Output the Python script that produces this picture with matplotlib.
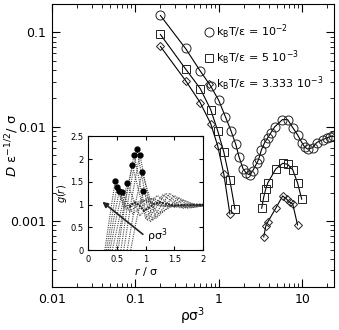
import matplotlib
matplotlib.use('Agg')
import matplotlib.pyplot as plt
from matplotlib.ticker import FixedLocator, FixedFormatter, LogLocator, NullFormatter

plt.rcParams['font.family'] = ['DejaVu Sans']
plt.rcParams['mathtext.fontset'] = 'dejavusans'

# main panel: D vs density, three temperatures
rho_t1 = [0.2, 0.4, 0.6, 0.8, 1.0, 1.2, 1.4, 1.6, 1.75, 1.95, 2.15, 2.35, 2.55, 2.85, 3.0, 3.25,
          3.55, 3.85, 4.2, 4.7, 5.8, 6.7, 7.7, 8.8, 9.9, 10.7, 11.6, 13.4, 14.9, 17.6, 19.6, 21.3, 23.2]
D_t1 = [0.151, 0.0675, 0.039, 0.027, 0.019, 0.0128, 0.0091, 0.0065, 0.0048, 0.0036, 0.0032, 0.0031,
        0.0034, 0.0041, 0.0045, 0.0057, 0.0068, 0.0076, 0.0086, 0.0100, 0.0119, 0.0119, 0.0098,
        0.0082, 0.0068, 0.0061, 0.0058, 0.0060, 0.0068, 0.0073, 0.0076, 0.0078, 0.0080]

rho_t2a = [0.2, 0.4, 0.6, 0.8, 0.97, 1.15, 1.36, 1.56]
D_t2a = [0.095, 0.041, 0.0254, 0.0152, 0.0091, 0.0054, 0.0027, 0.00135]
rho_t2b = [3.27, 3.46, 3.66, 3.87, 4.82, 5.84, 6.7, 7.7, 8.8, 9.86]
D_t2b = [0.00137, 0.0018, 0.0022, 0.00254, 0.00357, 0.0041, 0.0040, 0.0035, 0.00254, 0.00171]

rho_t3a = [0.2, 0.4, 0.6, 0.8, 0.97, 1.15, 1.36]
D_t3a = [0.071, 0.0309, 0.018, 0.0108, 0.0063, 0.00316, 0.00119]
rho_t3b = [3.46, 3.66, 3.87, 4.82, 5.84, 6.5, 7.08, 7.7, 8.8]
D_t3b = [0.00068, 0.000885, 0.00098, 0.00137, 0.00185, 0.00171, 0.00159, 0.00152, 0.00091]

labels = [r'k$_\mathregular{B}$T/ε = 10$^{-2}$',
          r'k$_\mathregular{B}$T/ε = 5 10$^{-3}$',
          r'k$_\mathregular{B}$T/ε = 3.333 10$^{-3}$']

x_ticks = [0.01, 0.1, 1, 10]
x_labels = ['0.01', '0.1', '1', '10']
y_ticks = [0.001, 0.01, 0.1]
y_labels = ['0.001', '0.01', '0.1']

# inset: g(r) curves (r, g)
gr_r = [
    [0.29, 0.39, 0.47, 0.62, 0.95, 1.25, 2.0],
    [0.32, 0.42, 0.50, 0.66, 1.00, 1.30, 2.0],
    [0.35, 0.45, 0.54, 0.72, 1.05, 1.35, 2.0],
    [0.38, 0.49, 0.59, 0.78, 1.12, 1.42, 2.0],
    [0.42, 0.56, 0.68, 0.90, 1.20, 1.50, 2.0],
    [0.48, 0.63, 0.77, 1.00, 1.30, 1.60, 2.0],
    [0.52, 0.66, 0.80, 1.03, 1.35, 1.65, 2.0],
    [0.57, 0.71, 0.85, 1.08, 1.42, 1.72, 2.0],
    [0.62, 0.76, 0.90, 1.12, 1.50, 1.80, 2.0],
    [0.68, 0.81, 0.94, 1.18, 1.58, 1.88, 2.0],
    [0.74, 0.85, 0.96, 1.22, 1.65, 1.95, 2.0],
]
gr_g = [
    [0, 0.85, 1.51, 0.95, 1.10, 0.97, 1.0],
    [0, 0.78, 1.38, 0.90, 1.10, 0.97, 1.0],
    [0, 0.72, 1.29, 0.85, 1.15, 0.96, 1.0],
    [0, 0.70, 1.27, 0.80, 1.15, 0.95, 1.0],
    [0, 0.80, 1.47, 0.75, 1.20, 0.94, 1.0],
    [0, 1.00, 1.86, 0.70, 1.22, 0.93, 1.0],
    [0, 1.15, 2.10, 0.65, 1.25, 0.92, 1.0],
    [0, 1.20, 2.21, 0.62, 1.25, 0.92, 0.98],
    [0, 1.15, 2.10, 0.65, 1.20, 0.93, 0.98],
    [0, 0.95, 1.71, 0.70, 1.15, 0.95, 0.97],
    [0, 0.72, 1.29, 0.80, 1.10, 0.96, 0.97],
]
dark_r = [0.72, 0.80, 0.88, 0.97, 1.05, 1.15, 1.25, 1.35, 1.50, 1.70, 2.0]
dark_g = [0.95, 1.05, 1.00, 0.86, 0.92, 1.02, 1.05, 1.02, 0.98, 1.0, 1.0]
peak_r = [0.47, 0.50, 0.54, 0.59, 0.68, 0.77, 0.80, 0.85, 0.90, 0.94, 0.96]
peak_g = [1.51, 1.38, 1.29, 1.27, 1.47, 1.86, 2.10, 2.21, 2.10, 1.71, 1.29]

fig = plt.figure(figsize=(3.39, 3.30), dpi=100)
ax = fig.add_axes([0.153, 0.130, 0.832, 0.858])

mk = dict(mfc='none', mec='#222222', mew=0.7, color='black', lw=0.8)
ax.plot(rho_t1, D_t1, marker='o', ms=6.5, label=labels[0], **mk)
ax.plot(rho_t2a, D_t2a, marker='s', ms=5.5, label=labels[1], **mk)
ax.plot(rho_t2b, D_t2b, marker='s', ms=5.5, **mk)
ax.plot(rho_t3a, D_t3a, marker='D', ms=4.5, label=labels[2], **mk)
ax.plot(rho_t3b, D_t3b, marker='D', ms=4.5, **mk)

ax.set_xscale('log')
ax.set_yscale('log')
ax.set_xlim(0.01, 24)
ax.set_ylim(2e-4, 0.2)
ax.xaxis.set_major_locator(FixedLocator(x_ticks))
ax.xaxis.set_major_formatter(FixedFormatter(x_labels))
ax.yaxis.set_major_locator(FixedLocator(y_ticks))
ax.yaxis.set_major_formatter(FixedFormatter(y_labels))
ax.xaxis.set_minor_locator(LogLocator(base=10, subs=range(2, 10)))
ax.yaxis.set_minor_locator(LogLocator(base=10, subs=range(2, 10)))
ax.xaxis.set_minor_formatter(NullFormatter())
ax.yaxis.set_minor_formatter(NullFormatter())
ax.tick_params(which='both', direction='in', top=True, right=True, labelsize=9)
ax.tick_params(which='major', length=6, pad=4)
ax.tick_params(which='minor', length=3)
ax.set_xlabel('ρσ$^3$', fontsize=10)
ax.xaxis.set_label_coords(0.5, -0.065)
ax.set_ylabel(r'$\mathit{D}$ ε$^{-1/2}$/ σ', fontsize=9.5)
ax.yaxis.set_label_coords(-0.11, 0.5)

leg = ax.legend(loc='upper right', frameon=False, fontsize=8, handlelength=0.8,
                handletextpad=0.3, labelspacing=0.7, bbox_to_anchor=(1.0, 0.97))
for h in leg.legend_handles:
    h.set_linestyle('none')

ins = fig.add_axes([0.260, 0.242, 0.339, 0.345])
for r, g in zip(gr_r, gr_g):
    ins.plot(r, g, ls=(0, (1, 1)), color='#444444', lw=0.8)
ins.plot(dark_r, dark_g, ls=(0, (1, 0.6)), color='#222222', lw=1.4)
ins.plot(peak_r, peak_g, 'o', color='black', ms=3.5, ls='none')
ins.annotate('', xy=(0.21, 1.10), xytext=(0.99, 0.31),
             arrowprops=dict(arrowstyle='-|>', color='#222222', lw=1.2, mutation_scale=8))
ins.text(1.03, 0.32, 'ρσ$^3$', fontsize=8, va='center')
ins.set_xlim(0, 2)
ins.set_ylim(0, 2.5)
ins.set_xticks([0, 0.5, 1, 1.5, 2])
ins.set_xticklabels(['0', '0.5', '1', '1.5', '2'])
ins.set_yticks([0, 0.5, 1, 1.5, 2, 2.5])
ins.set_yticklabels(['0', '0.5', '1', '1.5', '2', '2.5'])
ins.tick_params(direction='in', top=True, right=True, labelsize=6, length=3)
ins.set_xlabel(r'$\mathit{r}$ / σ', fontsize=8, labelpad=1)
ins.set_ylabel(r'$\mathit{g(r)}$', fontsize=7, labelpad=1)

fig.savefig('out.png', dpi=100)
